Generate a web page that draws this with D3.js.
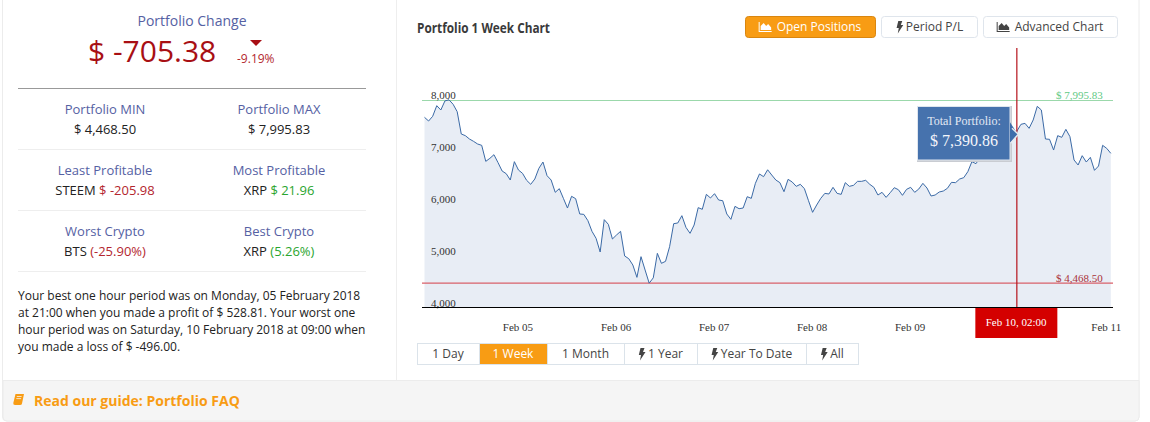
<!DOCTYPE html>
<html>
<head>
<meta charset="utf-8">
<script src="https://cdn.jsdelivr.net/npm/d3@7"></script>
<style>
  html, body { margin: 0; padding: 0; background: #fff; overflow: hidden; }
  text { font-family: "Open Sans", sans-serif; }
  .serif text, text.serif { font-family: "Liberation Serif", serif; }
</style>
</head>
<body>
<div id="chart"></div>
<script>
// hourly portfolio values, starting Feb 04 01:00
const portfolioValues = [
  7659, 7588, 7678, 7883, 7800, 7975, 7995.83, 7910, 7768, 7338, 7306, 7242, 7197, 7146, 7120,
  6812, 6870, 6940, 6787, 6626, 6575, 6453, 6806, 6645, 6581, 6447, 6370, 6472, 6678, 6799,
  6536, 6453, 6216, 6286, 6100, 5914, 6139, 6094, 5799, 5792, 5671, 5465, 5331, 5068, 5690,
  5600, 5318, 5395, 5465, 4991, 4939, 4818, 4580, 4978, 4721, 4468.5, 4570, 5042, 4850, 4888,
  5170, 5613, 5626, 5767, 5542, 5427, 5587, 5921, 5889, 6177, 6107, 6190, 6068, 6055, 5799,
  5696, 5946, 5901, 5914, 6132, 6100, 6389, 6569, 6517, 6650, 6549, 6453, 6402, 6228, 6466,
  6415, 6331, 6370, 6286, 6055, 5831, 5972, 6100, 6196, 6184, 6312, 6196, 6177, 6402, 6331,
  6350, 6427, 6427, 6447, 6370, 6312, 6164, 6216, 6119, 6209, 6305, 6267, 6158, 6273, 6312,
  6216, 6280, 6389, 6299, 6145, 6164, 6222, 6241, 6293, 6408, 6402, 6472, 6498, 6613, 6806,
  6767, 6883, 7063, 7017, 7063, 6934, 6934, 6998, 7159, 7300, 7390.86, 7524, 7543, 7447, 7608,
  7870, 7800, 7242, 7236, 7030, 7306, 7274, 7428, 7287, 6838, 6742, 6921, 6799, 6889, 6639,
  6722, 7120, 7062, 6966
]
const yTicks = [4000, 5000, 6000, 7000, 8000]
const dayTicks = ['2018-02-05', '2018-02-06', '2018-02-07', '2018-02-08', '2018-02-09', '2018-02-11']
const startTime = Date.UTC(2018, 1, 4, 1)
const crossTime = new Date(Date.UTC(2018, 1, 10, 2))
const crossValue = 7390.86
const minValue = 4468.5
const maxValue = 7995.83

const statRows = [
  ['Portfolio MIN', [['$ 4,468.50', 'black']], 'Portfolio MAX', [['$ 7,995.83', 'black']]],
  ['Least Profitable', [['STEEM ', 'black'], ['$ -205.98', 'red']], 'Most Profitable', [['XRP ', 'black'], ['$ 21.96', 'green']]],
  ['Worst Crypto', [['BTS ', 'black'], ['(-25.90%)', 'red']], 'Best Crypto', [['XRP ', 'black'], ['(5.26%)', 'green']]]
]
const summaryLines = [
  'Your best one hour period was on Monday, 05 February 2018',
  'at 21:00 when you made a profit of $ 528.81. Your worst one',
  'hour period was on Saturday, 10 February 2018 at 09:00 when',
  'you made a loss of $ -496.00.'
]
const topButtons = [
  { label: 'Open Positions', x0: 745, x1: 876, icon: 'area', on: true },
  { label: 'Period P/L', x0: 881, x1: 978, icon: 'bolt' },
  { label: 'Advanced Chart', x0: 983, x1: 1118, icon: 'area' }
]
const rangeButtons = [
  { label: '1 Day', x0: 417, x1: 479 },
  { label: '1 Week', x0: 479, x1: 547, on: true },
  { label: '1 Month', x0: 547, x1: 624 },
  { label: '1 Year', x0: 624, x1: 697, icon: 'bolt' },
  { label: 'Year To Date', x0: 697, x1: 806, icon: 'bolt' },
  { label: 'All', x0: 806, x1: 858, icon: 'bolt' }
]

const colors = {
  black: '#222', red: '#b3262e', green: '#2aa52e', heading: '#5561a3',
  orange: '#f89c14', orangeDark: '#d98610', line: '#3b6aa6', area: '#e8edf5'
}

const svg = d3.select('#chart').append('svg').attr('width', 1150).attr('height', 422)
  .style('display', 'block')

const addText = (parent, str, x, y, size, fill, anchor = 'start', weight = 400) =>
  parent.append('text').text(str).attr('x', x).attr('y', y)
    .attr('font-size', size).attr('fill', fill)
    .attr('text-anchor', anchor).attr('font-weight', weight)

const addIcon = (parent, type, x, y, fill) => {
  // x, y is the lower left corner of the glyph
  const g = parent.append('g').attr('transform', `translate(${x}, ${y})`).attr('fill', fill)
  if (type === 'bolt') {
    g.append('path').attr('d', 'M2.5 -11 L6.5 -11 L5 -7 L7.5 -7 L2 1.5 L3 -4 L0.8 -4 Z')
  } else if (type === 'area') {
    g.append('path').attr('d', 'M0 -10 L1 -10 L1 -1 L13 -1 L13 0 L0 0 Z')
    g.append('path').attr('d', 'M2 -2 L2 -6 L5 -9 L7.5 -6 L9.5 -8 L12.5 -4.5 L12.5 -2 Z')
  } else {
    g.append('path').attr('d', 'M2.5 -11 L11 -11 L9 -1.5 Q8.8 0 7 0 L2 0 Q0 0 0.3 -2 Z')
    g.append('path').attr('d', 'M3.8 -8.5 L8.6 -8.5 M3.3 -6.4 L8.1 -6.4').attr('stroke', '#f5f5f5').attr('stroke-width', 0.8)
  }
}

const addButton = (parent, b, y, h, size) => {
  const ink = b.on ? '#fff' : '#444'
  const g = parent.append('g')
  const cx = (b.x0 + b.x1) / 2
  const label = addText(g, b.label, cx, y + h / 2 + size * 0.36, size, ink, 'middle')
  if (b.icon) {
    const iconW = b.icon === 'bolt' ? 10 : 17
    const w = label.node().getComputedTextLength()
    const left = cx - (w + iconW) / 2
    label.attr('x', left + iconW).attr('text-anchor', 'start')
    addIcon(g, b.icon, left - (b.icon === 'bolt' ? 0 : 1), y + h / 2 + 5, ink)
  }
}

// panel frame and footer
svg.append('rect').attr('x', 2.5).attr('y', -5).attr('width', 1136.5).attr('height', 426).attr('rx', 4)
  .attr('fill', '#fff').attr('stroke', '#ececec')
svg.append('path').attr('d', 'M3 380.5 H1139 V417 Q1139 421 1135 421 H7 Q3 421 3 417 Z')
  .attr('fill', '#f5f5f5').attr('stroke', '#ececec')
svg.append('line').attr('x1', 396.5).attr('x2', 396.5).attr('y1', 0).attr('y2', 380).attr('stroke', '#eee')

addIcon(svg, 'book', 13, 405, colors.orange)
addText(svg, 'Read our guide: Portfolio FAQ', 34, 406, 14, colors.orange, 'start', 700)

// left panel
const left = svg.append('g')
addText(left, 'Portfolio Change', 192, 26, 14, colors.heading, 'middle')
addText(left, '$ -705.38', 88, 62, 30, '#a80f14')
left.append('path').attr('d', 'M250 40 H262 L256 46 Z').attr('fill', '#a80f14')
addText(left, '-9.19%', 237, 63, 12, colors.red)
left.append('line').attr('x1', 18).attr('x2', 366).attr('y1', 88.5).attr('y2', 88.5).attr('stroke', '#999')

statRows.forEach((row, i) => {
  const top = 114 + i * 61
  const cols = [[105, row[0], row[1]], [279, row[2], row[3]]]
  cols.forEach(([cx, title, parts]) => {
    addText(left, title, cx, top, 13, colors.heading, 'middle')
    const t = left.append('text').attr('x', cx).attr('y', top + 20)
      .attr('font-size', 13).attr('text-anchor', 'middle')
    parts.forEach(([str, color]) => {
      t.append('tspan').text(str).attr('fill', colors[color]).style('white-space', 'pre')
    })
  })
  const ly = 149.5 + i * 61
  left.append('line').attr('x1', 18).attr('x2', 366).attr('y1', ly).attr('y2', ly).attr('stroke', '#eee')
})

summaryLines.forEach((line, i) => {
  addText(left, line, 18, 300 + i * 17, 12, colors.black)
})

// right panel header
addText(svg, 'Portfolio 1 Week Chart', 417, 33, 14, '#3a3a3a', 'start', 700)
  .attr('textLength', 133).attr('lengthAdjust', 'spacingAndGlyphs')

topButtons.forEach((b) => {
  svg.append('rect').attr('x', b.x0 + 0.5).attr('y', 16.5).attr('width', b.x1 - b.x0 - 1).attr('height', 21).attr('rx', 3)
    .attr('fill', b.on ? colors.orange : '#fff').attr('stroke', b.on ? colors.orangeDark : '#dfe5ec')
  addButton(svg, b, 16, 22, 12)
})

rangeButtons.forEach((b) => {
  svg.append('rect').attr('x', b.x0 + 0.5).attr('y', 343.5).attr('width', b.x1 - b.x0).attr('height', 21)
    .attr('fill', b.on ? colors.orange : '#fff').attr('stroke', '#dbe3ea')
  addButton(svg, b, 343, 22, 12)
})

// chart
const data = portfolioValues.map((v, i) => ({ date: new Date(startTime + i * 3600000), value: v }))
const x = d3.scaleUtc().domain(d3.extent(data, (d) => d.date)).range([424.5, 1110.8])
const y = d3.scaleLinear().domain([4000, 8000]).range([307.5, 99.6])
const snap = (v) => Math.round(v) + 0.5

const chart = svg.append('g').attr('class', 'serif')

chart.append('path').datum(data)
  .attr('d', d3.area().x((d) => x(d.date)).y0(y(4000)).y1((d) => y(d.value)))
  .attr('fill', colors.area)

chart.append('line').attr('x1', 422).attr('x2', 1113).attr('y1', snap(y(maxValue))).attr('y2', snap(y(maxValue)))
  .attr('stroke', '#9bd8ab')
// two pixel rows so the red stays red in the photographed page
chart.append('line').attr('x1', 422).attr('x2', 1113).attr('y1', y(minValue)).attr('y2', y(minValue))
  .attr('stroke', '#d9606a').attr('stroke-width', 1.4)

chart.append('path').datum(data)
  .attr('d', d3.line().x((d) => x(d.date)).y((d) => y(d.value)))
  .attr('fill', 'none').attr('stroke', colors.line).attr('stroke-width', 1)

const yAxis = chart.append('g').attr('transform', 'translate(431, 0)')
  .call(d3.axisRight(y).tickValues(yTicks).tickSize(0).tickPadding(0).tickFormat(d3.format(',')))
yAxis.select('.domain').remove()
yAxis.selectAll('text').attr('dy', -1.5).attr('font-size', 11).attr('fill', '#333')
  .style('font-family', '"Liberation Serif", serif')

const xAxis = chart.append('g').attr('transform', `translate(0, ${y(4000)})`)
  .call(d3.axisBottom(x).tickValues(dayTicks.map((d) => new Date(d + 'T00:00:00Z'))).tickSize(0)
    .tickFormat(d3.utcFormat('%b %d')))
xAxis.select('.domain').remove()
xAxis.selectAll('text').attr('x', -1).attr('y', 23.5).attr('dy', 0).attr('font-size', 11).attr('fill', '#333')
  .style('font-family', '"Liberation Serif", serif')

chart.append('line').attr('x1', 422).attr('x2', 1113).attr('y1', 307.5).attr('y2', 307.5).attr('stroke', '#000')

addText(chart, '$ 7,995.83', 1056, 99, 11, '#62c985')
addText(chart, '$ 4,468.50', 1056, 282, 11, '#a8323a')

// crosshair and tooltip
const crossX = x(crossTime)
chart.append('line').attr('x1', crossX).attr('x2', crossX).attr('y1', 48).attr('y2', 307)
  .attr('stroke', '#b5121b').attr('stroke-width', 1.2)
chart.append('rect').attr('x', crossX - 41.5).attr('y', 308).attr('width', 82).attr('height', 30).attr('fill', '#d40000')
addText(chart, 'Feb 10, 02:00', crossX - 0.8, 326, 11, '#fff', 'middle')

const tipY = y(crossValue)
const tip = chart.append('g')
tip.append('rect').attr('x', 917).attr('y', 106).attr('width', 95).attr('height', 56).attr('fill', '#c9ccd2')
tip.append('rect').attr('x', 917.5).attr('y', 106.5).attr('width', 92.5).attr('height', 53.5)
  .attr('fill', '#3f6dab').attr('fill-opacity', 0.95).attr('stroke', '#dfe5ee')
tip.append('path').attr('d', `M1010 ${tipY - 9} L${crossX + 1} ${tipY + 3} L1010 ${tipY + 12} Z`)
  .attr('fill', '#3f6dab')
tip.append('path').attr('d', `M1010.5 ${tipY + 12} L${crossX + 1.5} ${tipY + 3} L1012 ${tipY - 3}`)
  .attr('fill', 'none').attr('stroke', '#e6eaf0').attr('stroke-width', 1.5)
addText(tip, 'Total Portfolio:', 964, 125, 12, '#e3e9f4', 'middle')
addText(tip, '$ 7,390.86', 964, 146, 16, '#f4f6fb', 'middle')
</script>
</body>
</html>
